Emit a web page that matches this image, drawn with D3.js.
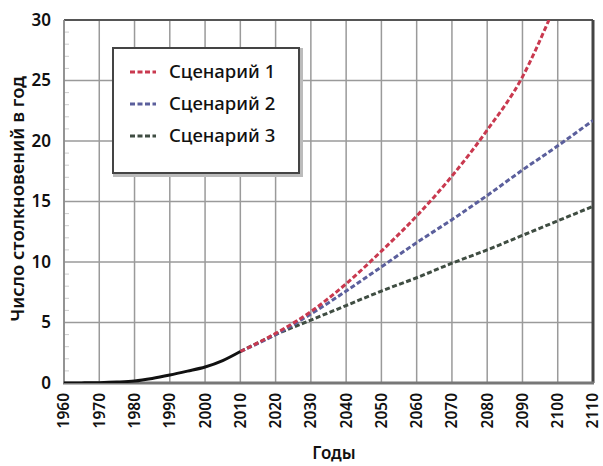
<!DOCTYPE html>
<meta charset="utf-8">
<body style="margin:0;background:#fff">
<script src="https://cdn.jsdelivr.net/npm/d3@7"></script>
<script>

var width = 603,
    height = 466,
    margin = {top: 20, right: 8, bottom: 83, left: 64};

// historical data (black curve)
var histYears = [1960, 1965, 1970, 1975, 1980, 1985, 1990, 1995, 2000, 2005, 2010];
var histValues = [0, 0.01, 0.03, 0.08, 0.17, 0.38, 0.66, 0.98, 1.32, 1.85, 2.6];

// projections
var projYears = [2010, 2020, 2030, 2040, 2050, 2060, 2070, 2080, 2090, 2097.5];
var scen1 = [2.6, 4.1, 5.9, 8.2, 10.9, 13.8, 17.1, 20.9, 25.3, 30];
var scen2Years = [2010, 2020, 2030, 2040, 2050, 2060, 2070, 2080, 2090, 2100, 2110];
var scen2 = [2.6, 4.0, 5.7, 7.6, 9.6, 11.6, 13.5, 15.5, 17.6, 19.6, 21.7];
var scen3 = [2.6, 4.0, 5.2, 6.4, 7.6, 8.7, 9.9, 11.0, 12.2, 13.4, 14.6];

var seriesNames = ["Сценарий 1", "Сценарий 2", "Сценарий 3"];
var seriesColors = ["#c9394f", "#5b5f9c", "#3f4d42"];

var xTicks = d3.range(1960, 2111, 10);
var yTicks = [0, 5, 10, 15, 20, 25, 30];

var x = d3.scaleLinear().domain([1960, 2110]).range([margin.left, width - margin.right - 2]);
var y = d3.scaleLinear().domain([0, 30]).range([height - margin.bottom, margin.top]);

var svg = d3.select("body").append("svg")
    .attr("width", width)
    .attr("height", height)
    .style("font-family", "'Noto Sans', sans-serif");

var clip = svg.append("clipPath").attr("id", "clip")
  .append("rect")
    .attr("x", x(1960)).attr("y", y(30))
    .attr("width", x(2110) - x(1960)).attr("height", y(0) - y(30));

// minor ticks on the left
svg.append("g").selectAll("line")
  .data(d3.range(0, 30, 1).filter(d => d % 5 != 0))
  .enter().append("line")
    .attr("x1", x(1960)).attr("x2", x(1960) + 5)
    .attr("y1", d => y(d)).attr("y2", d => y(d))
    .attr("stroke", "#ccc").attr("stroke-width", 1);

// grid
svg.append("g").selectAll("line")
  .data(xTicks)
  .enter().append("line")
    .attr("x1", d => x(d)).attr("x2", d => x(d))
    .attr("y1", y(0)).attr("y2", y(30))
    .attr("stroke", "#9a9a9a").attr("stroke-width", 1.5);

svg.append("g").selectAll("line")
  .data(yTicks)
  .enter().append("line")
    .attr("x1", x(1960)).attr("x2", x(2110))
    .attr("y1", d => y(d)).attr("y2", d => y(d))
    .attr("stroke", "#9a9a9a").attr("stroke-width", 1.5);

// frame
svg.append("line").attr("x1", x(1960)).attr("x2", x(2110)).attr("y1", y(30)).attr("y2", y(30))
    .attr("stroke", "#555").attr("stroke-width", 2);
svg.append("line").attr("x1", x(2110)).attr("x2", x(2110)).attr("y1", y(30)).attr("y2", y(0))
    .attr("stroke", "#444").attr("stroke-width", 3);
svg.append("line").attr("x1", x(1960)).attr("x2", x(1960)).attr("y1", y(30)).attr("y2", y(0))
    .attr("stroke", "#888").attr("stroke-width", 1.5);
svg.append("line").attr("x1", x(1960) - 1).attr("x2", x(2110) + 1).attr("y1", y(0)).attr("y2", y(0))
    .attr("stroke", "#777").attr("stroke-width", 3);

var line = d3.line()
    .x(d => x(d[0]))
    .y(d => y(d[1]))
    .curve(d3.curveMonotoneX);

// projections
var proj = [
  d3.zip(projYears, scen1),
  d3.zip(scen2Years, scen2),
  d3.zip(scen2Years, scen3)
];

var lines = svg.append("g").attr("clip-path", "url(#clip)");

proj.slice().reverse().forEach(function(p, i) {
  var k = proj.length - 1 - i;
  lines.append("path")
      .datum(p)
      .attr("d", line)
      .attr("fill", "none")
      .attr("stroke", seriesColors[k])
      .attr("stroke-width", 3)
      .attr("stroke-dasharray", "5,2.5");
});

lines.append("path")
    .datum(d3.zip(histYears, histValues))
    .attr("d", line)
    .attr("fill", "none")
    .attr("stroke", "#111")
    .attr("stroke-width", 3);

// y tick labels
svg.append("g").selectAll("text")
  .data(yTicks)
  .enter().append("text")
    .attr("x", 51)
    .attr("y", d => y(d))
    .attr("dy", "0.35em")
    .attr("text-anchor", "end")
    .attr("font-size", 17)
    .attr("font-weight", 600)
    .attr("fill", "#111")
    .text(d => d);

// x tick labels
svg.append("g").selectAll("text")
  .data(xTicks)
  .enter().append("text")
    .attr("transform", d => "translate(" + x(d) + "," + (y(0) + 10) + ") rotate(-90)")
    .attr("dy", "0.35em")
    .attr("text-anchor", "end")
    .attr("font-size", 15.5)
    .attr("font-weight", 600)
    .attr("fill", "#111")
    .text(d => d);

// axis titles
svg.append("text")
    .attr("x", 334).attr("y", 459)
    .attr("text-anchor", "middle")
    .attr("font-size", 17)
    .attr("font-weight", 600)
    .attr("fill", "#111")
    .text("Годы");

svg.append("text")
    .attr("transform", "translate(24," + 199 + ") rotate(-90)")
    .attr("text-anchor", "middle")
    .attr("font-size", 18.5)
    .attr("font-weight", 600)
    .attr("fill", "#111")
    .text("Число столкновений в год");

// legend
var legend = svg.append("g");
legend.append("rect")
    .attr("x", 115).attr("y", 50)
    .attr("width", 186).attr("height", 125)
    .attr("fill", "#fff")
    .attr("stroke", "#bbb").attr("stroke-width", 4);
legend.append("rect")
    .attr("x", 113).attr("y", 48)
    .attr("width", 186).attr("height", 125)
    .attr("fill", "#fff")
    .attr("stroke", "#444").attr("stroke-width", 2);

var item = legend.selectAll("g.item")
  .data(seriesNames)
  .enter().append("g")
    .attr("transform", (d, i) => "translate(0," + (72 + i * 32) + ")");

item.append("line")
    .attr("x1", 130).attr("x2", 156)
    .attr("stroke", (d, i) => seriesColors[i])
    .attr("stroke-width", 3)
    .attr("stroke-dasharray", "5,2.5");

item.append("text")
    .attr("x", 169)
    .attr("dy", "0.35em")
    .attr("font-size", 18.5)
    .attr("font-weight", 500)
    .attr("fill", "#111")
    .text(d => d);

</script>
